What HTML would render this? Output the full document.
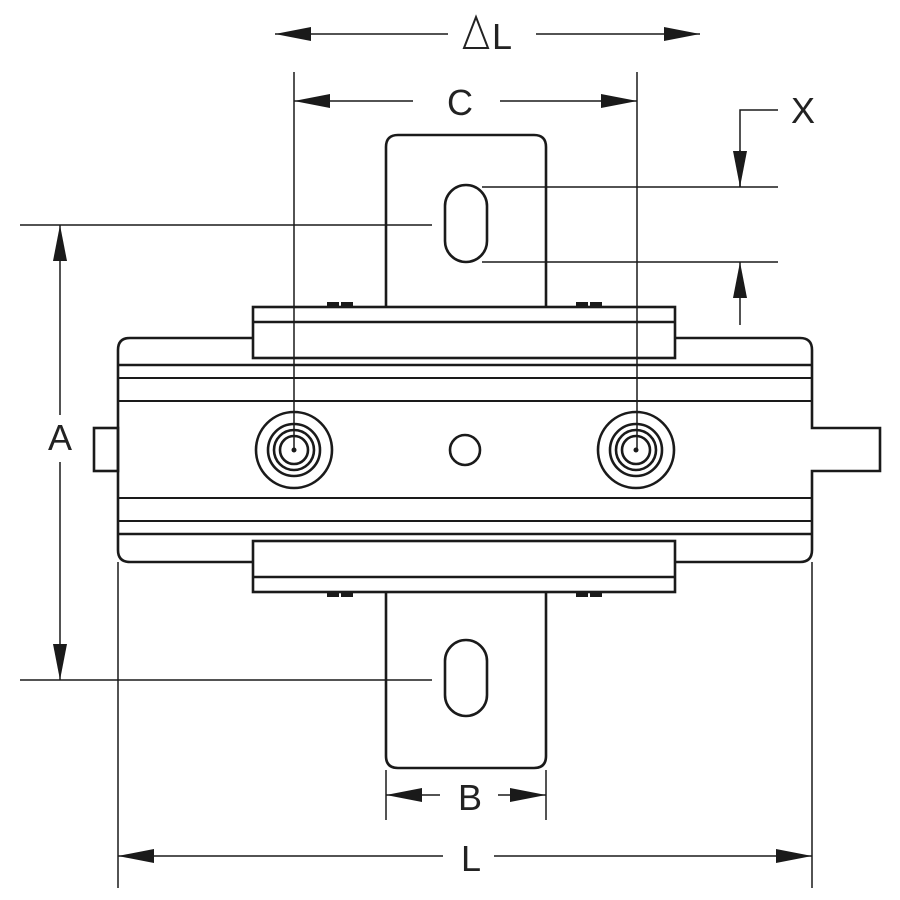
<!DOCTYPE html>
<html><head><meta charset="utf-8"><style>
html,body{margin:0;padding:0;background:#fff;width:900px;height:900px;overflow:hidden}
svg{display:block}
text{font-family:"Liberation Sans",sans-serif;fill:#222}
</style></head><body>
<svg width="900" height="900" viewBox="0 0 900 900" xmlns="http://www.w3.org/2000/svg">
<defs>
<marker id="ah" viewBox="0 0 36 14" refX="36" refY="7" markerWidth="36" markerHeight="14" markerUnits="userSpaceOnUse" orient="auto">
<path d="M0,0 L36,7 L0,14 Z" fill="#1a1a1a"/>
</marker>
</defs>
<g fill="none" stroke="#1a1a1a" stroke-width="2.6">
<path d="M386,307 V147 Q386,135 398,135 H534 Q546,135 546,147 V307"/>
<path d="M386,592 V756 Q386,768 398,768 H534 Q546,768 546,756 V592"/>
<rect x="445" y="185" width="42" height="77" rx="21"/>
<rect x="445" y="640" width="42" height="76" rx="21"/>
<path d="M253,338 H130 Q118,338 118,350 V550 Q118,562 130,562 H253"/>
<path d="M675,338 H800 Q812,338 812,350 V428 H880 V471 H812 V550 Q812,562 800,562 H675"/>
<rect x="94" y="428" width="24" height="43"/>
<line x1="118" y1="365" x2="812" y2="365"/>
<line x1="118" y1="378" x2="812" y2="378" stroke-width="2"/>
<line x1="118" y1="401" x2="812" y2="401" stroke-width="2"/>
<line x1="118" y1="498" x2="812" y2="498" stroke-width="2"/>
<line x1="118" y1="521" x2="812" y2="521" stroke-width="2"/>
<line x1="118" y1="534" x2="812" y2="534"/>
<rect x="253" y="307" width="422" height="51" fill="#fff"/>
<line x1="253" y1="322" x2="675" y2="322"/>
<rect x="253" y="541" width="422" height="51" fill="#fff"/>
<line x1="253" y1="577" x2="675" y2="577"/>
<circle cx="294" cy="450" r="38"/>
<circle cx="294" cy="450" r="26"/>
<circle cx="294" cy="450" r="20"/>
<circle cx="294" cy="450" r="14"/>
<circle cx="636" cy="450" r="38"/>
<circle cx="636" cy="450" r="26"/>
<circle cx="636" cy="450" r="20"/>
<circle cx="636" cy="450" r="14"/>
<circle cx="465" cy="450" r="15"/>
</g>
<g fill="#1a1a1a">
<circle cx="294" cy="450" r="2.5"/><circle cx="636" cy="450" r="2.5"/>
<rect x="327" y="302" width="12" height="5"/><rect x="341" y="302" width="12" height="5"/>
<rect x="576" y="302" width="12" height="5"/><rect x="590" y="302" width="12" height="5"/>
<rect x="327" y="592" width="12" height="5"/><rect x="341" y="592" width="12" height="5"/>
<rect x="576" y="592" width="12" height="5"/><rect x="590" y="592" width="12" height="5"/>
</g>
<g fill="none" stroke="#1a1a1a" stroke-width="1.5">
<line x1="448" y1="34" x2="275" y2="34" marker-end="url(#ah)"/>
<line x1="536" y1="34" x2="700" y2="34" marker-end="url(#ah)"/>
<line x1="294" y1="72" x2="294" y2="450"/>
<line x1="637" y1="72" x2="637" y2="450"/>
<line x1="413" y1="101" x2="294" y2="101" marker-end="url(#ah)"/>
<line x1="500" y1="101" x2="637" y2="101" marker-end="url(#ah)"/>
<line x1="482" y1="187" x2="778" y2="187"/>
<line x1="482" y1="262" x2="778" y2="262"/>
<polyline points="778,110 740,110 740,187"/>
<line x1="740" y1="150" x2="740" y2="187" marker-end="url(#ah)"/>
<line x1="740" y1="325" x2="740" y2="262" marker-end="url(#ah)"/>
<line x1="20" y1="225" x2="432" y2="225"/>
<line x1="20" y1="680" x2="432" y2="680"/>
<line x1="60" y1="415" x2="60" y2="225" marker-end="url(#ah)"/>
<line x1="60" y1="462" x2="60" y2="680" marker-end="url(#ah)"/>
<line x1="386" y1="770" x2="386" y2="820"/>
<line x1="546" y1="770" x2="546" y2="820"/>
<line x1="440" y1="795" x2="386" y2="795" marker-end="url(#ah)"/>
<line x1="498" y1="795" x2="546" y2="795" marker-end="url(#ah)"/>
<line x1="118" y1="562" x2="118" y2="888"/>
<line x1="812" y1="562" x2="812" y2="888"/>
<line x1="443" y1="856" x2="118" y2="856" marker-end="url(#ah)"/>
<line x1="494" y1="856" x2="812" y2="856" marker-end="url(#ah)"/>
</g>
<path d="M464,48 L476,17 L488,48 Z" fill="none" stroke="#222" stroke-width="2"/>
<text x="492" y="49" font-size="36">L</text>
<text x="460" y="115" font-size="36" text-anchor="middle">C</text>
<text x="803" y="123" font-size="36" text-anchor="middle">X</text>
<text x="60" y="450" font-size="36" text-anchor="middle">A</text>
<text x="470" y="810" font-size="36" text-anchor="middle">B</text>
<text x="471" y="871" font-size="36" text-anchor="middle">L</text>
</svg>
</body></html>
